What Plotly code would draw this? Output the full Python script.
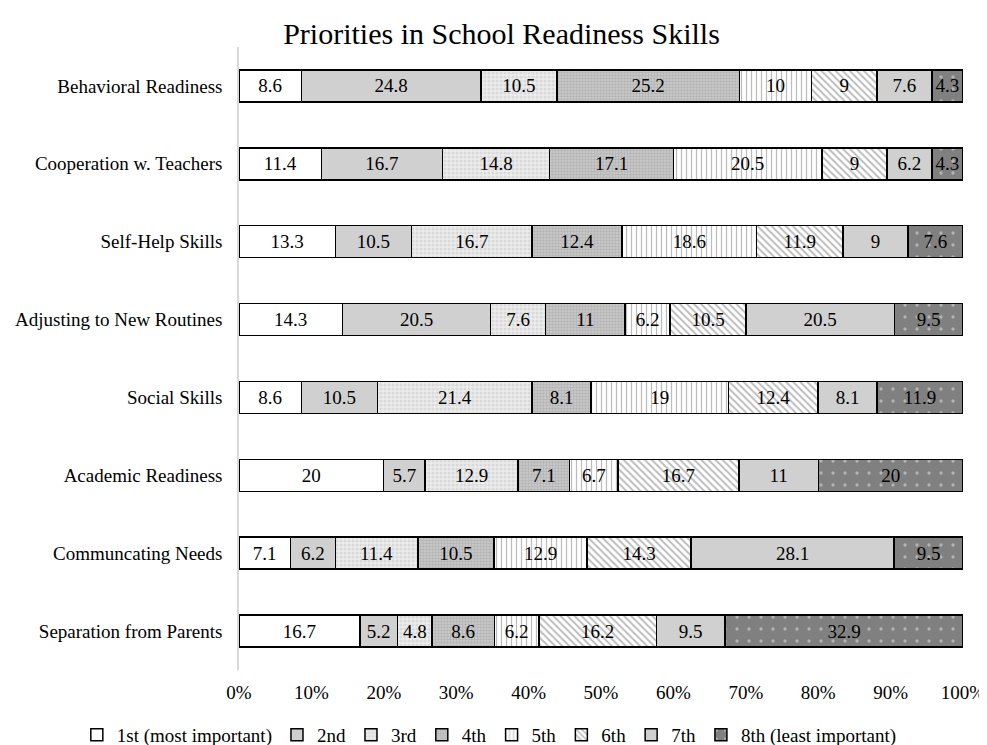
import plotly.graph_objects as go

categories = ["Behavioral Readiness", "Cooperation w. Teachers", "Self-Help Skills",
              "Adjusting to New Routines", "Social Skills", "Academic Readiness",
              "Communcating Needs", "Separation from Parents"]
series_names = ["1st (most important)", "2nd", "3rd", "4th", "5th", "6th", "7th",
                "8th (least important)"]
r1 = [8.6, 11.4, 13.3, 14.3, 8.6, 20, 7.1, 16.7]
r2 = [24.8, 16.7, 10.5, 20.5, 10.5, 5.7, 6.2, 5.2]
r3 = [10.5, 14.8, 16.7, 7.6, 21.4, 12.9, 11.4, 4.8]
r4 = [25.2, 17.1, 12.4, 11, 8.1, 7.1, 10.5, 8.6]
r5 = [10, 20.5, 18.6, 6.2, 19, 6.7, 12.9, 6.2]
r6 = [9, 9, 11.9, 10.5, 12.4, 16.7, 14.3, 16.2]
r7 = [7.6, 6.2, 9, 20.5, 8.1, 11, 28.1, 9.5]
r8 = [4.3, 4.3, 7.6, 9.5, 11.9, 20, 9.5, 32.9]
series = [r1, r2, r3, r4, r5, r6, r7, r8]
tick_vals = [0, 10, 20, 30, 40, 50, 60, 70, 80, 90, 100]
tick_text = ["0%", "10%", "20%", "30%", "40%", "50%", "60%", "70%", "80%", "90%", "100%"]

styles = [
    dict(color="white", pattern=None),
    dict(color="#d0d0d0", pattern=None),
    dict(color="#e4e4e4", pattern=dict(shape=".", fgcolor="#c8c8c8", bgcolor="#ececec", size=4, solidity=0.5)),
    dict(color="#b4b4b4", pattern=dict(shape=".", fgcolor="#999999", bgcolor="#cccccc", size=3, solidity=0.5)),
    dict(color="white", pattern=dict(shape="|", fgcolor="#7a7a7a", bgcolor="white", size=5, solidity=0.25)),
    dict(color="white", pattern=dict(shape="\\", fgcolor="#7a7a7a", bgcolor="white", size=5, solidity=0.4)),
    dict(color="#d0d0d0", pattern=None),
    dict(color="#808080", pattern=dict(shape=".", fgcolor="#e6e6e6", bgcolor="#808080", size=12, solidity=0.06)),
]

font_family = "Liberation Serif, Times New Roman, serif"
fig = go.Figure()
for name, vals, st in zip(series_names, series, styles):
    marker = dict(color=st["color"], line=dict(color="black", width=1.5))
    if st["pattern"]:
        marker["pattern"] = st["pattern"]
    fig.add_trace(go.Bar(
        y=categories, x=vals, name=name, orientation="h",
        text=[str(v) for v in vals], texttemplate="%{text}",
        textposition="inside", insidetextanchor="middle",
        textfont=dict(color="black", size=19, family=font_family),
        marker=marker, width=0.41,
    ))

fig.update_layout(
    barmode="stack", barnorm="percent",
    width=987, height=745,
    margin=dict(l=231, r=32, t=39, b=83, autoexpand=False),
    paper_bgcolor="white", plot_bgcolor="white",
    font=dict(family=font_family, size=19, color="black"),
    title=dict(text="Priorities in School Readiness Skills", x=0.5, xanchor="center",
               y=0.966, yanchor="middle", font=dict(size=30, family=font_family, color="black")),
    uniformtext=dict(minsize=19, mode="show"),
    legend=dict(orientation="h", x=-0.224, xanchor="left", y=-0.104, yanchor="middle",
                font=dict(size=19, family=font_family), traceorder="normal",
                itemwidth=30, tracegroupgap=0),
    showlegend=True,
)
fig.update_xaxes(range=[0, 100], tickvals=tick_vals, ticktext=tick_text, showgrid=False,
                 zeroline=False, showline=False, ticks="", automargin=False,
                 ticklabelstandoff=9, tickfont=dict(size=19, family=font_family))
fig.update_yaxes(categoryorder="array", categoryarray=categories[::-1], showgrid=False,
                 showline=True, linecolor="#d9d9d9", linewidth=1.5, ticks="",
                 automargin=False,
                 ticklabelstandoff=11, tickfont=dict(size=19, family=font_family))

fig.write_html("out.html")
